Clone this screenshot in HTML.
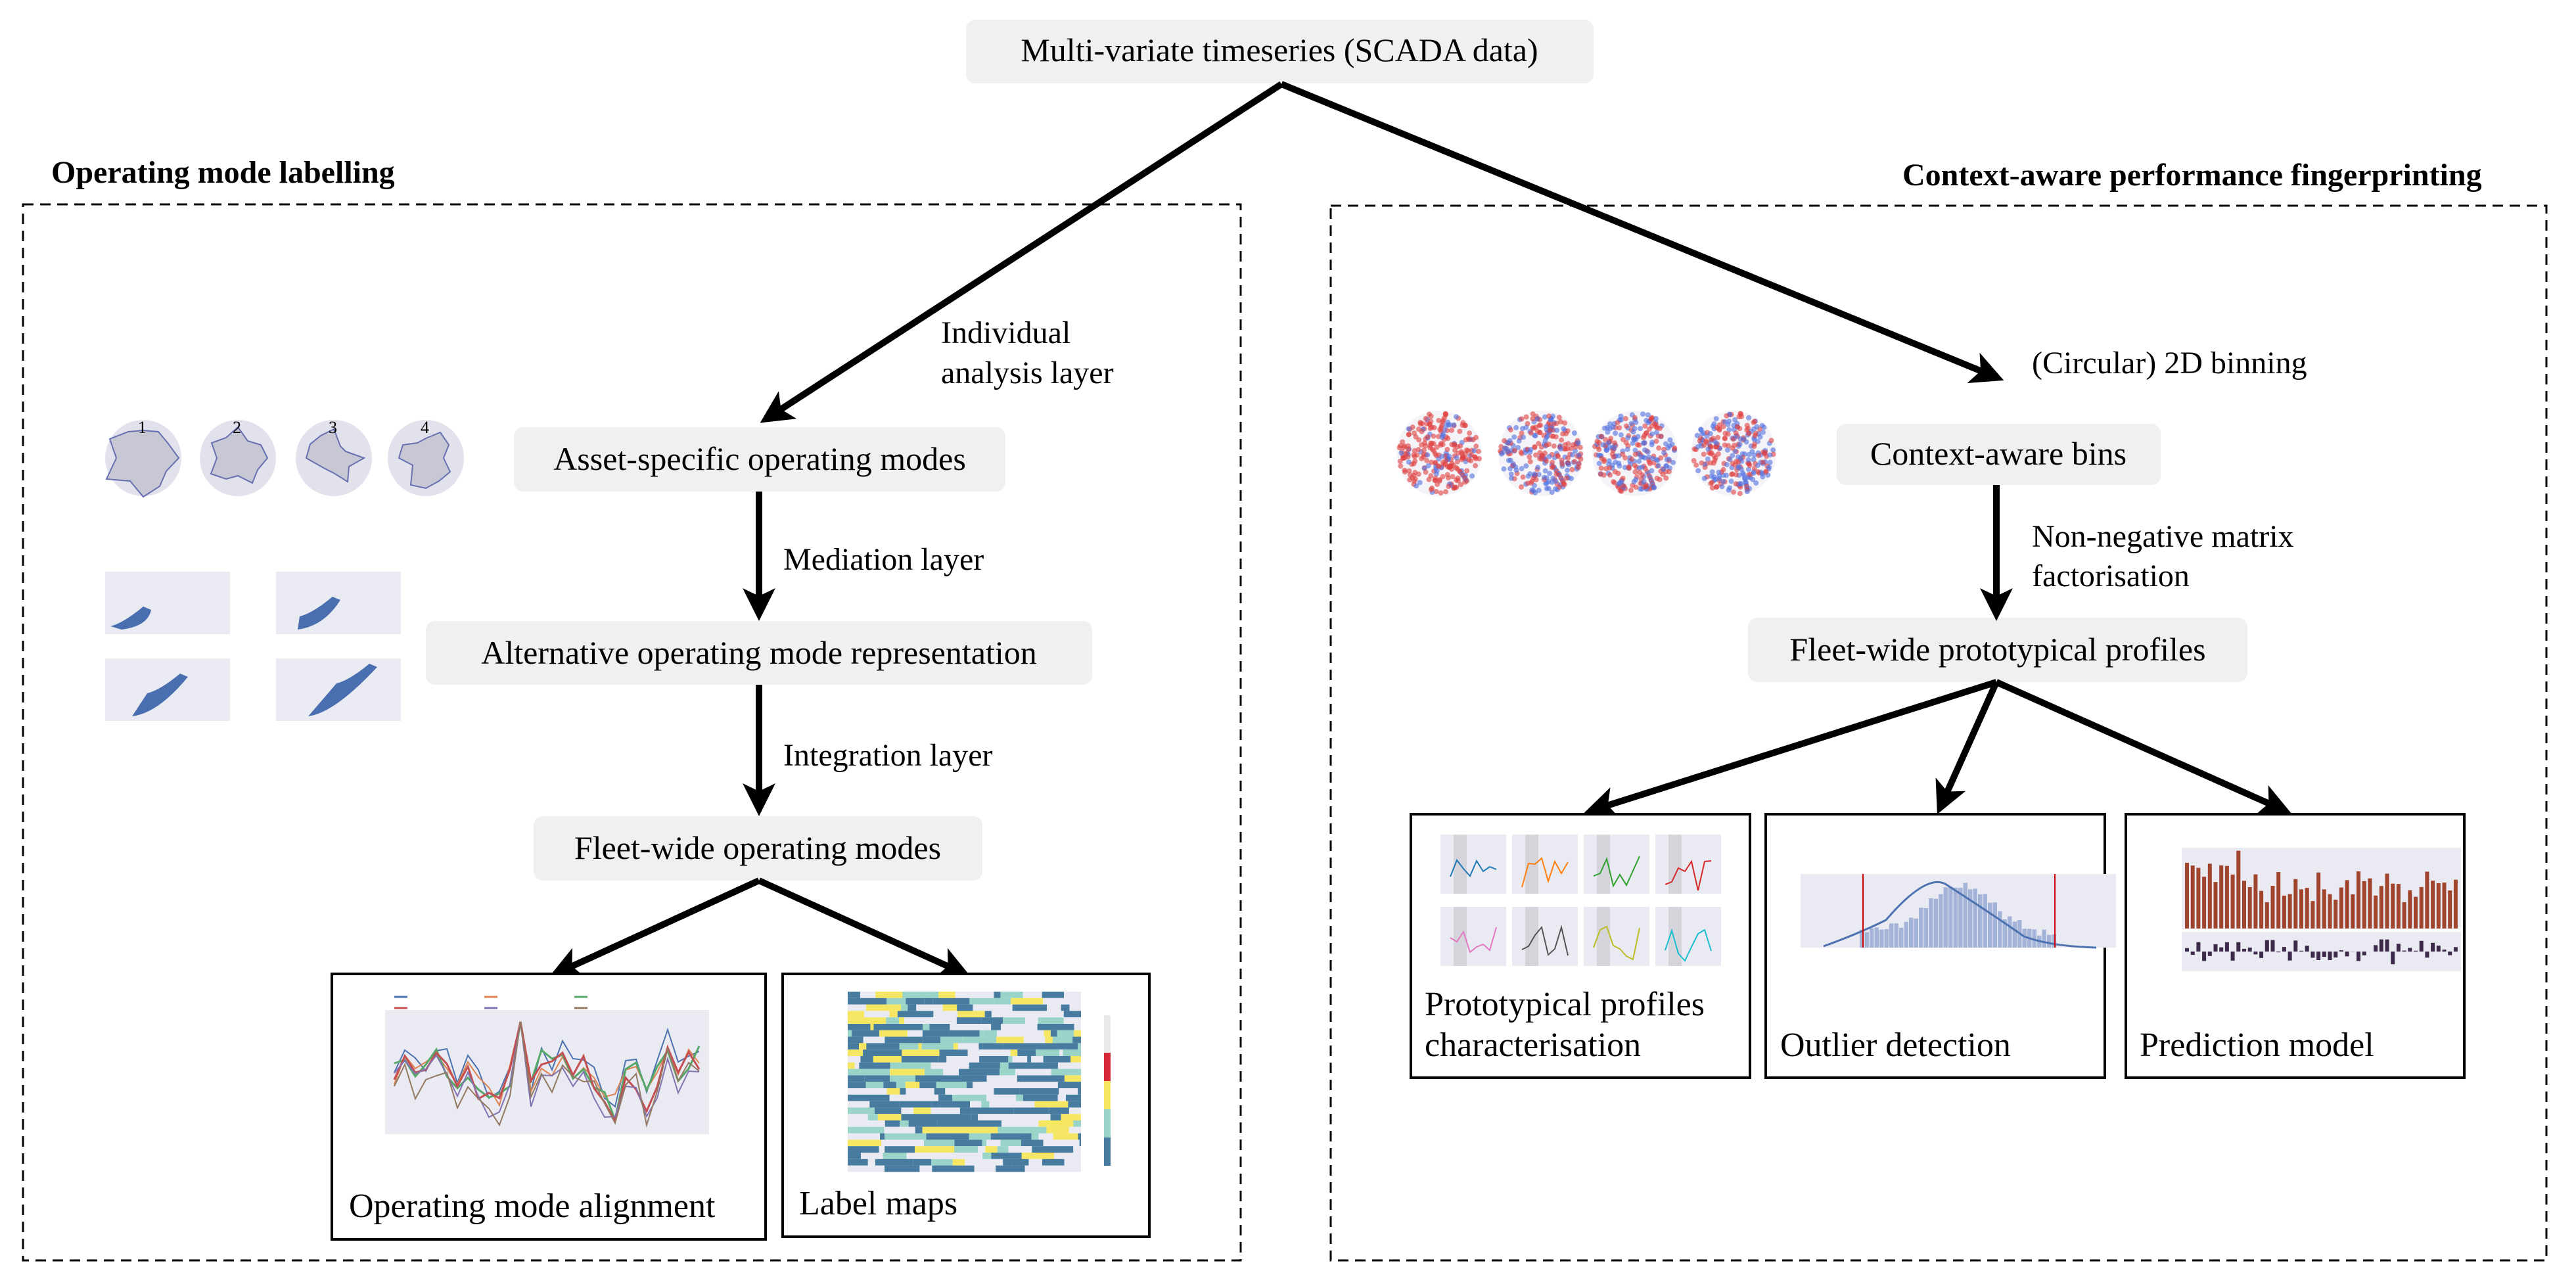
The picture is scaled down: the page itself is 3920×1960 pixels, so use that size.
<!DOCTYPE html>
<html><head><meta charset="utf-8"><style>
html,body{margin:0;padding:0;background:#fff;}
svg{display:block;font-family:"Liberation Serif","DejaVu Serif",serif}
svg text{font-family:"Liberation Serif","DejaVu Serif",serif;fill:#000}
</style></head><body>
<svg id="s" width="3920" height="1960" viewBox="0 0 3920 1960" xmlns="http://www.w3.org/2000/svg" font-family="Liberation Serif, serif">
<defs>
<marker id="ah" markerWidth="5" markerHeight="5" refX="4" refY="2.5" orient="auto" markerUnits="strokeWidth">
<path d="M0,0 L5,2.5 L0,5 L1.2,2.5 z" fill="#000"/></marker>
</defs>
<rect x="35" y="311" width="1853" height="1607" fill="none" stroke="#000" stroke-width="3" stroke-dasharray="16,10"/>
<rect x="2025" y="313" width="1850" height="1605" fill="none" stroke="#000" stroke-width="3" stroke-dasharray="16,10"/>
<text x="78" y="278" font-size="48" font-weight="bold" font-family="Liberation Serif, serif">Operating mode labelling</text>
<text x="2895" y="282" font-size="48" font-weight="bold" font-family="Liberation Serif, serif">Context-aware performance fingerprinting</text>

<g fill="#f0f0f0">
<rect x="1470" y="30" width="955" height="97" rx="14"/>
<rect x="782" y="650" width="748" height="98" rx="14"/>
<rect x="648" y="945" width="1014" height="97" rx="14"/>
<rect x="812" y="1242" width="683" height="98" rx="14"/>
<rect x="2795" y="645" width="493" height="93" rx="14"/>
<rect x="2660" y="940" width="760" height="98" rx="14"/>
</g>
<g font-size="50" text-anchor="middle" font-family="Liberation Serif, serif">
<text x="1947" y="93">Multi-variate timeseries (SCADA data)</text>
<text x="1156" y="715">Asset-specific operating modes</text>
<text x="1155" y="1010">Alternative operating mode representation</text>
<text x="1153" y="1307">Fleet-wide operating modes</text>
<text x="3041" y="707">Context-aware bins</text>
<text x="3040" y="1005">Fleet-wide prototypical profiles</text>
</g>
<g font-size="48" font-family="Liberation Serif, serif">
<text x="1432" y="522">Individual</text>
<text x="1432" y="583">analysis layer</text>
<text x="1192" y="867">Mediation layer</text>
<text x="1192" y="1165">Integration layer</text>
<text x="3092" y="568">(Circular) 2D binning</text>
<text x="3092" y="832">Non-negative matrix</text>
<text x="3092" y="892">factorisation</text>
</g>

<g stroke="#000" stroke-width="10" fill="none" marker-end="url(#ah)">
<line x1="1950" y1="128" x2="1165" y2="638"/>
<line x1="1950" y1="128" x2="3040" y2="575"/>
<line x1="1155" y1="748" x2="1155" y2="935"/>
<line x1="1155" y1="1042" x2="1155" y2="1232"/>
<line x1="1155" y1="1340" x2="845" y2="1482"/>
<line x1="1155" y1="1340" x2="1468" y2="1482"/>
<line x1="3038" y1="738" x2="3038" y2="935"/>
<line x1="3038" y1="1038" x2="2420" y2="1234"/>
<line x1="3038" y1="1038" x2="2952" y2="1230"/>
<line x1="3038" y1="1038" x2="3478" y2="1234"/>
</g>

<g fill="#fff" stroke="#000" stroke-width="4">
<rect x="505" y="1482" width="660" height="404"/>
<rect x="1191" y="1482" width="558" height="400"/>
<rect x="2147" y="1239" width="516" height="401"/>
<rect x="2687" y="1239" width="516" height="401"/>
<rect x="3235" y="1239" width="515" height="401"/>
</g>
<g font-size="52" font-family="Liberation Serif, serif">
<text x="531" y="1852">Operating mode alignment</text>
<text x="1216" y="1848">Label maps</text>
<text x="2168" y="1545">Prototypical profiles</text>
<text x="2168" y="1607">characterisation</text>
<text x="2709" y="1607">Outlier detection</text>
<text x="3256" y="1607">Prediction model</text>
</g>

<rect x="586" y="1537" width="493" height="189" fill="#eaeaf2"/>
<g id="oma"></g>
<g id="hm"></g>
<rect x="1680" y="1545" width="10" height="57" fill="#eaeaea"/>
<rect x="1680" y="1602" width="10" height="43" fill="#d62839"/>
<rect x="1680" y="1645" width="10" height="43" fill="#f5e663"/>
<rect x="1680" y="1688" width="10" height="43" fill="#9ad3c8"/>
<rect x="1680" y="1731" width="10" height="43" fill="#477ca0"/>
<g id="radar"></g>
<g id="scat"></g>
<g id="circ"></g>
<g id="prof"></g>
<rect x="2740" y="1330" width="480" height="112" fill="#eaeaf2"/>
<g id="hist"></g>
<rect x="3320" y="1290" width="425" height="123" fill="#eaeaf2"/>
<rect x="3320" y="1418" width="425" height="60" fill="#eaeaf2"/>
<g id="pred"></g>
</svg>
<script>
var NS="http://www.w3.org/2000/svg";
function el(p,t,a){var e=document.createElementNS(NS,t);for(var k in a)e.setAttribute(k,a[k]);document.getElementById(p).appendChild(e);return e;}
var seed=7;function r(){seed=(seed*9301+49297)%233280;return seed/233280;}
var cols=["#4c72b0","#dd8452","#55a868","#c44e52","#8172b2","#937860"];
var base=[];for(var i=0;i<30;i++)base.push(1640-Math.sin(i*0.5)*30-(r()-0.5)*60);
for(var c=0;c<6;c++){var pts=[];for(var i=0;i<30;i++){var x=600+i*16;var y=base[i]+(r()-0.5)*40+(c-2.5)*6;if(i==12)y=1555;pts.push(x+","+y.toFixed(0));}
el("oma","polyline",{points:pts.join(" "),fill:"none",stroke:cols[c],"stroke-width":c==2||c==3?3:2});}
for(var c=0;c<6;c++){el("oma","line",{x1:600+(c%3)*137,y1:1517+Math.floor(c/3)*17,x2:620+(c%3)*137,y2:1517+Math.floor(c/3)*17,stroke:cols[c],"stroke-width":3});}
var hc=["#477ca0","#9ad3c8","#f5e663","#eaeaf2","#477ca0","#eaeaf2"];
for(var row=0;row<28;row++){var x=1290;while(x<1645){var w=5+r()*60;if(x+w>1645)w=1645-x;el("hm","rect",{x:x,y:1509+row*9.8,width:w,height:9.8,fill:hc[Math.floor(r()*6)]});x+=w;}}
var rcx=[218,362,508,648];
for(var k=0;k<4;k++){var cx=rcx[k];var cy=697;el("radar","circle",{cx:cx,cy:cy,r:58,fill:"#e2e2ec"});var p=[];for(var i=0;i<12;i++){var a=i*Math.PI/6;var rr=(k==0?40:20)+r()*28;p.push((cx+rr*Math.sin(a)).toFixed(0)+","+(cy-rr*Math.cos(a)).toFixed(0));}el("radar","polygon",{points:p.join(" "),fill:"#c8c8d4",stroke:"#6670b0","stroke-width":2});var t=el("radar","text",{x:cx-8,y:cy-38,"font-size":"26"});t.textContent=k+1;}
[[160,870],[420,870],[160,1002],[420,1002]].forEach(function(q,i){el("scat","rect",{x:q[0],y:q[1],width:190,height:95,fill:"#eaeaf2"});el("scat","path",{d:"M"+(q[0]+25+i*8)+","+(q[1]+88)+" q40,-5 "+(45+i*20)+",-"+(30+i*15)+" l-12,-5 q-30,25 -50,30z",fill:"#4a6fb0"});});
var ccx=[2190,2345,2488,2638];
for(var k=0;k<4;k++){var cx=ccx[k],cy=690;el("circ","circle",{cx:cx,cy:cy,r:65,fill:"#f4f4f8"});for(var i=0;i<260;i++){var a=r()*6.283,rr=Math.sqrt(r())*62;el("circ","circle",{cx:cx+rr*Math.cos(a),cy:cy+rr*Math.sin(a),r:4,fill:r()<(k==0?0.8:0.5)?"#e04040":"#5070e0","opacity":0.6});}}
var pc=["#1f77b4","#ff7f0e","#2ca02c","#d62728","#e377c2","#555","#bcbd22","#17becf"];
for(var k=0;k<8;k++){var x=2192+(k%4)*109,y=1270+Math.floor(k/4)*110;el("prof","rect",{x:x,y:y,width:100,height:90,fill:"#eaeaf2"});el("prof","rect",{x:x+20,y:y,width:20,height:90,fill:"#d4d4da"});var p=[];for(var i=0;i<8;i++)p.push((x+15+i*10)+","+(y+30+r()*55).toFixed(0));el("prof","polyline",{points:p.join(" "),fill:"none",stroke:pc[k],"stroke-width":2});}
for(var i=0;i<40;i++){var h=15+75*Math.exp(-Math.pow((i-20)/9,2))+r()*15;el("hist","rect",{x:2830+i*7.5,y:1442-h,width:6.5,height:h,fill:"#a3b4d8"});}
el("hist","path",{d:"M2775,1440 Q2830,1420 2870,1400 Q2930,1330 2960,1345 Q3030,1390 3080,1425 Q3120,1440 3190,1442",fill:"none",stroke:"#4c72b0","stroke-width":3});
el("hist","line",{x1:2835,y1:1330,x2:2835,y2:1442,stroke:"#c00","stroke-width":2});
el("hist","line",{x1:3127,y1:1330,x2:3127,y2:1442,stroke:"#c00","stroke-width":2});
for(var i=0;i<48;i++){var h=40+r()*50+(i<10?30:0);el("pred","rect",{x:3325+i*8.7,y:1413-h,width:6,height:h,fill:"#a0442e"});var d=(r()-0.5)*40;el("pred","rect",{x:3325+i*8.7,y:d<0?1448+d:1448,width:6,height:Math.abs(d),fill:"#3d2a4a"});}
</script>
</body></html>
